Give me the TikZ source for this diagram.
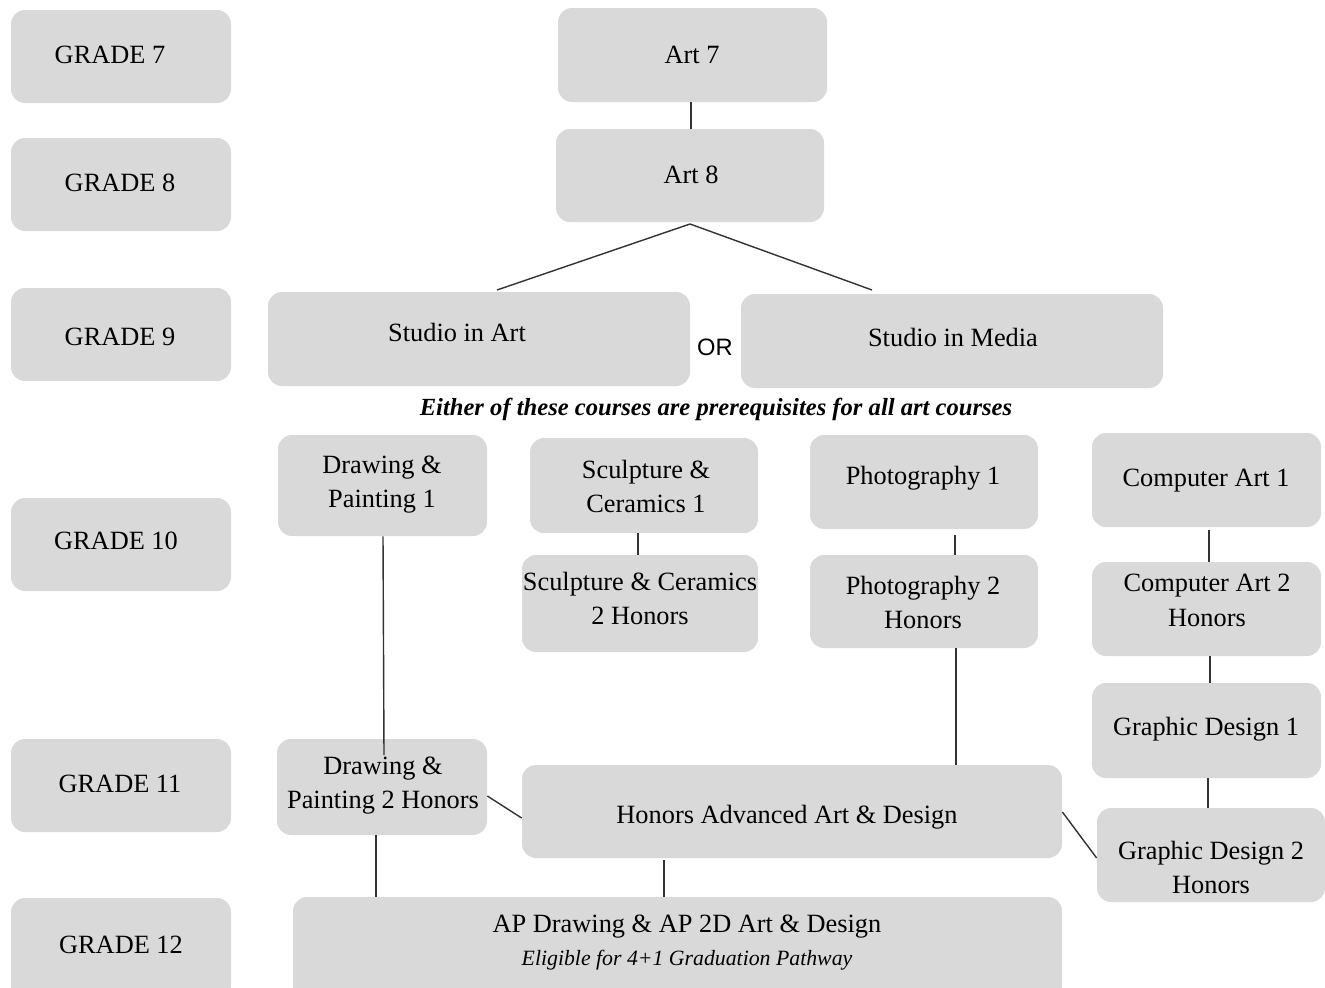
\documentclass[tikz,border=0pt]{standalone}
\usepackage{fontspec}
\setmainfont{Liberation Serif}
\newfontfamily\orfont{Liberation Sans}
\usetikzlibrary{fit}
\definecolor{boxgray}{HTML}{D9D9D9}
\definecolor{linegray}{HTML}{333333}
\tikzset{
  box/.style={fill=boxgray, draw=none, rounded corners=0.28cm, inner sep=0pt},
  txt/.style={align=center, font=\fontsize{15}{19.8}\selectfont, inner sep=0pt, yshift=-0.05cm},
  conn/.style={draw=linegray, line width=0.8pt},
}
\begin{document}
\begin{tikzpicture}[x=0.02cm,y=-0.02cm]
\useasboundingbox (0,0) rectangle (1325,987);
\clip (0,0) rectangle (1325,987);
% grade boxes
\node[box, fit={(11,10) (231,103)}] (g7) {};
\node[box, fit={(11,138) (231,231)}] (g8) {};
\node[box, fit={(11,288) (231,381)}] (g9) {};
\node[box, fit={(11,498) (231,591)}] (g10) {};
\node[box, fit={(11,739) (231,832)}] (g11) {};
\node[box, fit={(11,898) (231,1000)}] (g12) {};
\node[txt] (g7t) at (110,52) {GRADE 7};
\node[txt] (g8t) at (120,180) {GRADE 8};
\node[txt] (g9t) at (120,334) {GRADE 9};
\node[txt] (g10t) at (116,538) {GRADE 10};
\node[txt] (g11t) at (120,781) {GRADE 11};
\node[txt] (g12t) at (121,942) {GRADE 12};
% course boxes
\node[box, fit={(558,8) (827,102)}] (art7) {};
\node[box, fit={(556,129) (824,222)}] (art8) {};
\node[box, fit={(268,292) (690,386)}] (sart) {};
\node[box, fit={(741,294) (1163,388)}] (smed) {};
\node[box, fit={(278,435) (487,536)}] (dp1) {};
\node[box, fit={(530,438) (758,533)}] (sc1) {};
\node[box, fit={(522,555) (758,652)}] (sc2) {};
\node[box, fit={(810,435) (1038,529)}] (ph1) {};
\node[box, fit={(810,555) (1038,648)}] (ph2) {};
\node[box, fit={(1092,433) (1321,527)}] (ca1) {};
\node[box, fit={(1092,562) (1321,656)}] (ca2) {};
\node[box, fit={(1092,683) (1321,778)}] (gd1) {};
\node[box, fit={(1097,808) (1325,902)}] (gd2) {};
\node[box, fit={(277,739) (487,835)}] (dp2) {};
\node[box, fit={(522,765) (1062,858)}] (haad) {};
\node[box, fit={(293,897) (1062,1000)}] (ap) {};
% texts
\node[txt] (art7t) at (692,52) {Art 7};
\node[txt] (art8t) at (691,172) {Art 8};
\node[txt] (sartt) at (457,330) {Studio in Art};
\node[txt] (smedt) at (953,335) {Studio in Media};
\node[txt, font=\orfont\fontsize{13.5}{16}\selectfont] (or) at (715,345) {OR};
\node[txt, font=\fontsize{14}{16}\selectfont\bfseries\itshape] (note) at (716,407) {Either of these courses are prerequisites for all art courses};
\node[txt] (dp1t) at (382,482) {Drawing \&\\Painting 1};
\node[txt] (sc1t) at (646,484) {Sculpture \&\\Ceramics 1};
\node[txt] (sc2t) at (640,596) {Sculpture \& Ceramics\\2 Honors};
\node[txt] (ph1t) at (923,476) {Photography 1};
\node[txt] (ph2t) at (923,600) {Photography 2\\Honors};
\node[txt] (ca1t) at (1206,478) {Computer Art 1};
\node[txt] (ca2t) at (1207,598) {Computer Art 2\\Honors};
\node[txt] (gd1t) at (1206,727) {Graphic Design 1};
\node[txt] (gd2t) at (1211,865) {Graphic Design 2\\Honors};
\node[txt] (dp2t) at (383,783) {Drawing \&\\Painting 2 Honors};
\node[txt] (haadt) at (787,815) {Honors Advanced Art \& Design};
\node[txt, font=\fontsize{15}{18.7}\selectfont] (apt) at (687,940) {AP Drawing \& AP 2D Art \& Design\\{\fontsize{12.4}{14}\selectfont\itshape Eligible for 4+1 Graduation Pathway}};
% connectors
\coordinate (art8b) at (690,224);
\coordinate (dpin) at (384,755);
\draw[conn] (691,0 |- art7.south) -- (691,0 |- art8.north);
\draw[conn] (497,290) -- (art8b) -- (872,290);
\draw[conn] (383,0 |- dp1.south) -- (dpin);
\draw[conn] (638,0 |- sc1.south) -- (638,0 |- sc2.north);
\draw[conn] (955,535) -- (955,0 |- ph2.north);
\draw[conn] (956,0 |- ph2.south) -- (956,0 |- haad.north);
\draw[conn] (1209,530) -- (1209,0 |- ca2.north);
\draw[conn] (1210,0 |- ca2.south) -- (1210,0 |- gd1.north);
\draw[conn] (1208,0 |- gd1.south) -- (1208,0 |- gd2.north);
\draw[conn] (dp2.east |- 0,796) -- (haad.west |- 0,818);
\draw[conn] (haad.east |- 0,812) -- (gd2.west |- 0,858);
\draw[conn] (376,0 |- dp2.south) -- (376,0 |- ap.north);
\draw[conn] (664,860) -- (664,0 |- ap.north);
\end{tikzpicture}
\end{document}
